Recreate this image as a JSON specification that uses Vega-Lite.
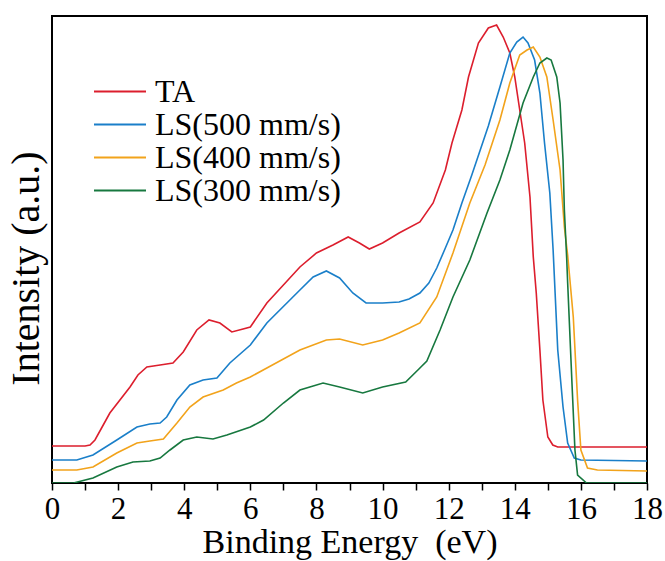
{
  "$schema": "https://vega.github.io/schema/vega-lite/v6.json",
  "width": 595,
  "height": 467,
  "autosize": "none",
  "padding": {"left": 52, "top": 16, "right": 18, "bottom": 78},
  "background": "white",
  "config": {
    "view": {"stroke": "black", "strokeWidth": 2},
    "font": "Liberation Serif"
  },
  "datasets": {
    "ups": [
      {"s":"TA","x":0,"y":37},{"s":"TA","x":1.0,"y":37},{"s":"TA","x":1.15,"y":38},{"s":"TA","x":1.3,"y":43},{"s":"TA","x":1.5,"y":55},{"s":"TA","x":1.75,"y":70},{"s":"TA","x":2.36,"y":96},{"s":"TA","x":2.6,"y":108},{"s":"TA","x":2.87,"y":116},{"s":"TA","x":3.27,"y":118},{"s":"TA","x":3.66,"y":120},{"s":"TA","x":3.97,"y":131},{"s":"TA","x":4.38,"y":153},{"s":"TA","x":4.75,"y":163},{"s":"TA","x":5.08,"y":160},{"s":"TA","x":5.44,"y":151},{"s":"TA","x":5.78,"y":154},{"s":"TA","x":6.0,"y":156},{"s":"TA","x":6.5,"y":180},{"s":"TA","x":7.0,"y":198},{"s":"TA","x":7.5,"y":216},{"s":"TA","x":8.0,"y":230},{"s":"TA","x":8.5,"y":238},{"s":"TA","x":8.96,"y":246},{"s":"TA","x":9.3,"y":240},{"s":"TA","x":9.6,"y":234},{"s":"TA","x":10.0,"y":240},{"s":"TA","x":10.5,"y":250},{"s":"TA","x":11.13,"y":261},{"s":"TA","x":11.53,"y":280},{"s":"TA","x":11.9,"y":313},{"s":"TA","x":12.1,"y":340},{"s":"TA","x":12.4,"y":373},{"s":"TA","x":12.6,"y":406},{"s":"TA","x":12.9,"y":440},{"s":"TA","x":13.2,"y":455},{"s":"TA","x":13.45,"y":458},{"s":"TA","x":13.65,"y":446},{"s":"TA","x":13.85,"y":430},{"s":"TA","x":14.0,"y":406},{"s":"TA","x":14.15,"y":373},{"s":"TA","x":14.3,"y":340},{"s":"TA","x":14.46,"y":286},{"s":"TA","x":14.56,"y":226},{"s":"TA","x":14.65,"y":190},{"s":"TA","x":14.76,"y":133},{"s":"TA","x":14.85,"y":83},{"s":"TA","x":15.0,"y":46},{"s":"TA","x":15.15,"y":38},{"s":"TA","x":15.3,"y":36},{"s":"TA","x":18,"y":36},
      {"s":"LS(500 mm/s)","x":0,"y":23},{"s":"LS(500 mm/s)","x":0.75,"y":23},{"s":"LS(500 mm/s)","x":1.24,"y":28},{"s":"LS(500 mm/s)","x":1.96,"y":43},{"s":"LS(500 mm/s)","x":2.57,"y":56},{"s":"LS(500 mm/s)","x":2.96,"y":59},{"s":"LS(500 mm/s)","x":3.27,"y":60},{"s":"LS(500 mm/s)","x":3.47,"y":66},{"s":"LS(500 mm/s)","x":3.78,"y":83},{"s":"LS(500 mm/s)","x":4.17,"y":98},{"s":"LS(500 mm/s)","x":4.57,"y":103},{"s":"LS(500 mm/s)","x":4.99,"y":105},{"s":"LS(500 mm/s)","x":5.38,"y":120},{"s":"LS(500 mm/s)","x":6.0,"y":138},{"s":"LS(500 mm/s)","x":6.5,"y":160},{"s":"LS(500 mm/s)","x":7.5,"y":193},{"s":"LS(500 mm/s)","x":7.9,"y":206},{"s":"LS(500 mm/s)","x":8.3,"y":212},{"s":"LS(500 mm/s)","x":8.7,"y":205},{"s":"LS(500 mm/s)","x":9.1,"y":190},{"s":"LS(500 mm/s)","x":9.5,"y":180},{"s":"LS(500 mm/s)","x":10.0,"y":180},{"s":"LS(500 mm/s)","x":10.5,"y":181},{"s":"LS(500 mm/s)","x":10.8,"y":184},{"s":"LS(500 mm/s)","x":11.13,"y":190},{"s":"LS(500 mm/s)","x":11.4,"y":200},{"s":"LS(500 mm/s)","x":11.64,"y":215},{"s":"LS(500 mm/s)","x":11.9,"y":235},{"s":"LS(500 mm/s)","x":12.13,"y":253},{"s":"LS(500 mm/s)","x":12.4,"y":280},{"s":"LS(500 mm/s)","x":12.7,"y":308},{"s":"LS(500 mm/s)","x":13.2,"y":357},{"s":"LS(500 mm/s)","x":13.55,"y":396},{"s":"LS(500 mm/s)","x":13.85,"y":430},{"s":"LS(500 mm/s)","x":14.06,"y":441},{"s":"LS(500 mm/s)","x":14.25,"y":446},{"s":"LS(500 mm/s)","x":14.4,"y":440},{"s":"LS(500 mm/s)","x":14.6,"y":423},{"s":"LS(500 mm/s)","x":14.76,"y":390},{"s":"LS(500 mm/s)","x":14.9,"y":340},{"s":"LS(500 mm/s)","x":15.06,"y":290},{"s":"LS(500 mm/s)","x":15.16,"y":233},{"s":"LS(500 mm/s)","x":15.3,"y":133},{"s":"LS(500 mm/s)","x":15.46,"y":76},{"s":"LS(500 mm/s)","x":15.6,"y":40},{"s":"LS(500 mm/s)","x":15.8,"y":25},{"s":"LS(500 mm/s)","x":16.0,"y":23},{"s":"LS(500 mm/s)","x":18,"y":22},
      {"s":"LS(400 mm/s)","x":0,"y":13},{"s":"LS(400 mm/s)","x":0.75,"y":13},{"s":"LS(400 mm/s)","x":1.24,"y":16},{"s":"LS(400 mm/s)","x":1.96,"y":30},{"s":"LS(400 mm/s)","x":2.57,"y":40},{"s":"LS(400 mm/s)","x":2.96,"y":42},{"s":"LS(400 mm/s)","x":3.37,"y":44},{"s":"LS(400 mm/s)","x":3.78,"y":60},{"s":"LS(400 mm/s)","x":4.17,"y":76},{"s":"LS(400 mm/s)","x":4.57,"y":86},{"s":"LS(400 mm/s)","x":5.18,"y":93},{"s":"LS(400 mm/s)","x":5.58,"y":100},{"s":"LS(400 mm/s)","x":6.0,"y":106},{"s":"LS(400 mm/s)","x":6.5,"y":115},{"s":"LS(400 mm/s)","x":7.5,"y":133},{"s":"LS(400 mm/s)","x":8.3,"y":143},{"s":"LS(400 mm/s)","x":8.7,"y":144},{"s":"LS(400 mm/s)","x":9.4,"y":138},{"s":"LS(400 mm/s)","x":10.0,"y":143},{"s":"LS(400 mm/s)","x":10.5,"y":150},{"s":"LS(400 mm/s)","x":11.13,"y":160},{"s":"LS(400 mm/s)","x":11.64,"y":186},{"s":"LS(400 mm/s)","x":12.13,"y":230},{"s":"LS(400 mm/s)","x":12.64,"y":280},{"s":"LS(400 mm/s)","x":13.1,"y":318},{"s":"LS(400 mm/s)","x":13.55,"y":363},{"s":"LS(400 mm/s)","x":13.85,"y":400},{"s":"LS(400 mm/s)","x":14.15,"y":428},{"s":"LS(400 mm/s)","x":14.37,"y":433},{"s":"LS(400 mm/s)","x":14.56,"y":436},{"s":"LS(400 mm/s)","x":14.76,"y":426},{"s":"LS(400 mm/s)","x":14.97,"y":406},{"s":"LS(400 mm/s)","x":15.16,"y":363},{"s":"LS(400 mm/s)","x":15.37,"y":313},{"s":"LS(400 mm/s)","x":15.5,"y":256},{"s":"LS(400 mm/s)","x":15.6,"y":228},{"s":"LS(400 mm/s)","x":15.77,"y":166},{"s":"LS(400 mm/s)","x":15.9,"y":83},{"s":"LS(400 mm/s)","x":16.0,"y":33},{"s":"LS(400 mm/s)","x":16.2,"y":15},{"s":"LS(400 mm/s)","x":16.5,"y":13},{"s":"LS(400 mm/s)","x":18,"y":12},
      {"s":"LS(300 mm/s)","x":0,"y":0},{"s":"LS(300 mm/s)","x":0.65,"y":0},{"s":"LS(300 mm/s)","x":1.24,"y":5},{"s":"LS(300 mm/s)","x":1.96,"y":16},{"s":"LS(300 mm/s)","x":2.45,"y":21},{"s":"LS(300 mm/s)","x":2.96,"y":22},{"s":"LS(300 mm/s)","x":3.27,"y":25},{"s":"LS(300 mm/s)","x":3.57,"y":33},{"s":"LS(300 mm/s)","x":3.97,"y":43},{"s":"LS(300 mm/s)","x":4.38,"y":46},{"s":"LS(300 mm/s)","x":4.87,"y":44},{"s":"LS(300 mm/s)","x":5.29,"y":48},{"s":"LS(300 mm/s)","x":6.0,"y":56},{"s":"LS(300 mm/s)","x":6.4,"y":63},{"s":"LS(300 mm/s)","x":7.0,"y":80},{"s":"LS(300 mm/s)","x":7.5,"y":93},{"s":"LS(300 mm/s)","x":8.2,"y":100},{"s":"LS(300 mm/s)","x":8.7,"y":96},{"s":"LS(300 mm/s)","x":9.4,"y":90},{"s":"LS(300 mm/s)","x":10.0,"y":96},{"s":"LS(300 mm/s)","x":10.7,"y":101},{"s":"LS(300 mm/s)","x":11.1,"y":114},{"s":"LS(300 mm/s)","x":11.34,"y":122},{"s":"LS(300 mm/s)","x":11.74,"y":153},{"s":"LS(300 mm/s)","x":12.13,"y":186},{"s":"LS(300 mm/s)","x":12.64,"y":223},{"s":"LS(300 mm/s)","x":13.16,"y":270},{"s":"LS(300 mm/s)","x":13.55,"y":303},{"s":"LS(300 mm/s)","x":13.85,"y":333},{"s":"LS(300 mm/s)","x":14.25,"y":380},{"s":"LS(300 mm/s)","x":14.56,"y":406},{"s":"LS(300 mm/s)","x":14.76,"y":420},{"s":"LS(300 mm/s)","x":14.97,"y":425},{"s":"LS(300 mm/s)","x":15.1,"y":423},{"s":"LS(300 mm/s)","x":15.27,"y":406},{"s":"LS(300 mm/s)","x":15.37,"y":380},{"s":"LS(300 mm/s)","x":15.46,"y":323},{"s":"LS(300 mm/s)","x":15.5,"y":273},{"s":"LS(300 mm/s)","x":15.57,"y":225},{"s":"LS(300 mm/s)","x":15.6,"y":200},{"s":"LS(300 mm/s)","x":15.73,"y":100},{"s":"LS(300 mm/s)","x":15.82,"y":33},{"s":"LS(300 mm/s)","x":15.9,"y":8},{"s":"LS(300 mm/s)","x":16.17,"y":0},{"s":"LS(300 mm/s)","x":18,"y":0}
    ]
  },
  "data": {"name": "ups"},
  "mark": {"type": "line", "strokeWidth": 1.6, "clip": true},
  "encoding": {
    "x": {
      "field": "x", "type": "quantitative",
      "scale": {"domain": [0, 18], "nice": false, "zero": false},
      "axis": {
        "title": "Binding Energy\u00a0 (eV)",
        "values": [0,1,2,3,4,5,6,7,8,9,10,11,12,13,14,15,16,17,18],
        "labelExpr": "datum.value % 2 == 0 ? datum.label : ''",
        "grid": false, "domain": false,
        "tickSize": 7, "tickWidth": 1.5, "tickColor": "black",
        "labelFont": "Liberation Serif", "labelFontSize": 31, "labelColor": "black",
        "labelPadding": 4, "labelFlush": false, "labelOverlap": false,
        "titleFont": "Liberation Serif", "titleFontSize": 34, "titleFontWeight": "normal", "titleColor": "black",
        "titlePadding": 1
      }
    },
    "y": {
      "field": "y", "type": "quantitative",
      "scale": {"domain": [0, 467], "nice": false, "zero": false},
      "axis": {
        "title": "Intensity (a.u.)",
        "ticks": false, "labels": false, "grid": false, "domain": false,
        "titleFont": "Liberation Serif", "titleFontSize": 40, "titleFontWeight": "normal", "titleColor": "black",
        "titlePadding": 6, "titleY": 252
      }
    },
    "color": {
      "field": "s", "type": "nominal",
      "sort": ["TA", "LS(500 mm/s)", "LS(400 mm/s)", "LS(300 mm/s)"],
      "scale": {
        "domain": ["TA", "LS(500 mm/s)", "LS(400 mm/s)", "LS(300 mm/s)"],
        "range": ["#dc1e2d", "#1a7fc9", "#f2a31b", "#17783f"]
      },
      "legend": {
        "title": null,
        "orient": "none", "legendX": 41, "legendY": 59,
        "padding": 0,
        "symbolType": "stroke", "symbolSize": 2704, "symbolStrokeWidth": 2,
        "clipHeight": 33, "rowPadding": 0, "labelOffset": 8,
        "labelFont": "Liberation Serif", "labelFontSize": 32, "labelColor": "black",
        "labelLimit": 400
      }
    }
  }
}
